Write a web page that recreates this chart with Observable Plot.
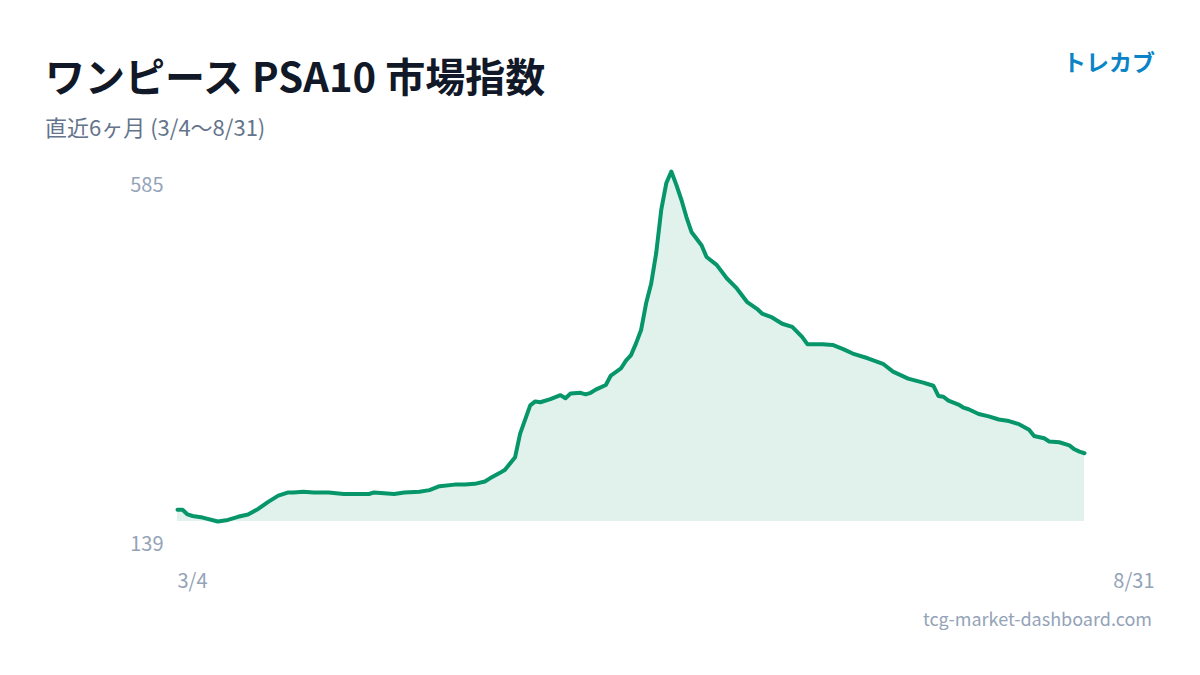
<!DOCTYPE html>
<html>
<head>
<meta charset="utf-8">
<script src="https://cdn.jsdelivr.net/npm/d3@7"></script>
<script src="https://cdn.jsdelivr.net/npm/@observablehq/plot@0.6"></script>
<style>
  html, body { margin: 0; padding: 0; background: #ffffff; }
  #root { position: relative; width: 1200px; height: 675px; overflow: hidden; font-family: "Noto Sans CJK JP", "Noto Sans", sans-serif; }
  .abs { position: absolute; white-space: nowrap; line-height: 1; }
  #title { left: 45px; top: 55px; font-size: 40px; font-weight: 700; color: #111827; }
  #subtitle { left: 45px; top: 115px; font-size: 22px; color: #64748b; }
  #brand { right: 45px; top: 50px; font-size: 23px; font-weight: 700; color: #0a84c6; }
  #footer { right: 48px; top: 609px; font-size: 18px; color: #94a3b8; }
  #chart { position: absolute; left: 0; top: 0; }
</style>
</head>
<body>
<div id="root">
  <div id="chart"></div>
  <div id="title" class="abs">ワンピース PSA10 市場指数</div>
  <div id="subtitle" class="abs">直近6ヶ月 (3/4〜8/31)</div>
  <div id="brand" class="abs">トレカブ</div>
  <div id="footer" class="abs">tcg-market-dashboard.com</div>
</div>
<script>
// ---- data ----
const startDate = "2025-03-04";
const endDate = "2025-08-31";
const dayOffsets = [0,1,2,3,5,8,10,12,14,16,18,20,22,23,25,27,30,33,36,38,39,41,43,45,48,50,52,55,57,59,61,62,64,65,67,68,70,71,72,74,76,77,78,80,81,82,83,85,86,88,89,90,91,92,93,94,95,96,97,98,99,100,101,102,104,105,107,109,111,113,115,116,118,120,122,124,125,128,130,132,134,137,140,142,145,148,150,151,152,153,155,156,157,159,161,163,165,167,169,170,172,173,175,177,178,179,180];
const indexValues = [154,154,148,146,144,139,141,145,148,155,164,172,176,176,177,176,176,174,174,174,176,175,174,176,177,179,184,186,186,187,190,194,201,205,221,251,287,292,291,295,300,296,302,303,301,303,307,313,325,334,344,351,366,383,417,442,481,536,570,585,568,549,527,508,491,476,466,449,436,419,410,404,399,391,387,374,365,365,364,359,353,347,340,330,321,316,312,299,298,293,288,284,282,276,273,269,267,263,256,248,245,241,240,236,231,228,226];
const yTickLabels = [139, 585];
const xTickLabels = ["3/4", "8/31"];

// ---- build table ----
const start = new Date(startDate + "T00:00:00Z");
const end = new Date(endDate + "T00:00:00Z");
const data = dayOffsets.map((d, i) => ({ date: d3.utcDay.offset(start, d), value: indexValues[i] }));
const yMin = d3.min(indexValues);
const yMax = d3.max(indexValues);

const green = "#069669";
const axisColor = "#94a3b8";

const chart = Plot.plot({
  width: 1200,
  height: 675,
  marginLeft: 177,
  marginRight: 116,
  marginTop: 171,
  marginBottom: 154,
  x: { type: "utc", domain: [start, end] },
  y: { domain: [yMin, yMax] },
  style: { fontFamily: "'Noto Sans CJK JP', 'Noto Sans', sans-serif", fontSize: "20px", background: "transparent", color: axisColor },
  marks: [
    Plot.areaY(data, { x: "date", y1: () => yMin, y2: "value", fill: green, fillOpacity: 0.12 }),
    Plot.lineY(data, { x: "date", y: "value", stroke: green, strokeWidth: 4, strokeLinejoin: "round", strokeLinecap: "round" }),
    Plot.axisY({ ticks: [yTickLabels[1]], tickSize: 0, tickPadding: 14, dy: 14, fill: axisColor, tickFormat: d => String(d), label: null }),
    Plot.axisY({ ticks: [yTickLabels[0]], tickSize: 0, tickPadding: 14, dy: 23, fill: axisColor, tickFormat: d => String(d), label: null }),
    Plot.axisX({ ticks: [start], tickSize: 0, tickPadding: 52, textAnchor: "start", fill: axisColor, tickFormat: () => xTickLabels[0], label: null }),
    Plot.axisX({ ticks: [end], tickSize: 0, tickPadding: 52, textAnchor: "end", dx: 70, fill: axisColor, tickFormat: () => xTickLabels[1], label: null })
  ]
});
document.getElementById("chart").appendChild(chart);
</script>
</body>
</html>
